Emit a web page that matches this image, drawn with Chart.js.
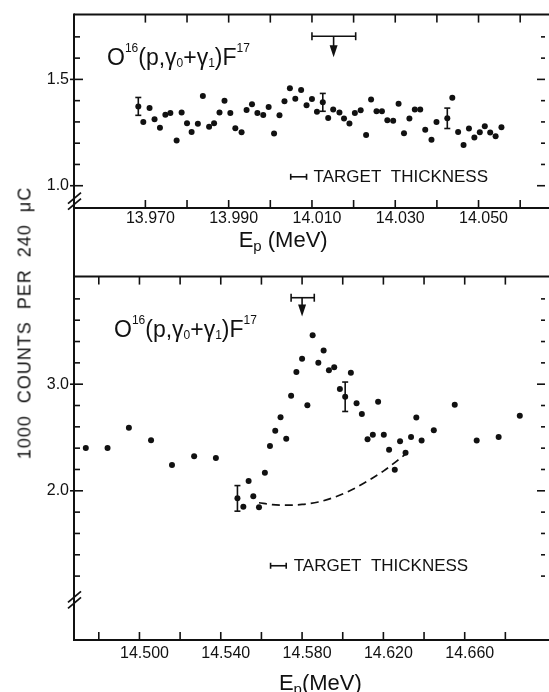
<!DOCTYPE html>
<html lang="en">
<head>
<meta charset="UTF-8">
<title>O16(p,γ0+γ1)F17 yield</title>
<script src="https://cdn.jsdelivr.net/npm/chart.js@4.4.1/dist/chart.umd.min.js"></script>
<style>
    html, body {
        margin: 0;
        padding: 0;
        width: 549px;
        height: 692px;
        overflow: hidden;
        background: #fff;
    }
    .panel { position: absolute; left: 0; }
    #topWrap { top: 0; }
    #botWrap { top: 262px; }
    #yTitle {
        position: absolute;
        left: 25px;
        top: 323px;
        transform: translate(-50%, -50%) rotate(-90deg);
        white-space: pre;
        font: 18px "Liberation Sans", Arial, sans-serif;
        letter-spacing: 1px;
        color: #111;
    }
</style>
</head>
<body>
<div id="topWrap" class="panel"><canvas id="topChart" width="549" height="262"></canvas></div>
<div id="botWrap" class="panel"><canvas id="botChart" width="549" height="430"></canvas></div>
<div id="yTitle">1000  COUNTS  PER  240  μC</div>

<script>
// ---- upper panel: 13.97 - 14.06 MeV ----
const topE = [13.9683, 13.9695, 13.9710, 13.9722, 13.9735, 13.9748, 13.9760, 13.9775, 13.9787, 13.9800,
              13.9811, 13.9826, 13.9838, 13.9853, 13.9865, 13.9878, 13.9890, 13.9904, 13.9916, 13.9931,
              13.9943, 13.9956, 13.9969, 13.9983, 13.9996, 14.0009, 14.0022, 14.0034, 14.0047, 14.0060,
              14.0074, 14.0087, 14.0100, 14.0112, 14.0126, 14.0139, 14.0151, 14.0166, 14.0177, 14.0190,
              14.0203, 14.0217, 14.0230, 14.0242, 14.0255, 14.0268, 14.0281, 14.0295, 14.0308, 14.0321,
              14.0334, 14.0347, 14.0360, 14.0372, 14.0387, 14.0399, 14.0425, 14.0437, 14.0451, 14.0464,
              14.0477, 14.0490, 14.0503, 14.0515, 14.0528, 14.0541, 14.0555];
const topCounts = [1.373, 1.300, 1.366, 1.313, 1.273, 1.334, 1.342, 1.213, 1.344, 1.294,
                   1.253, 1.291, 1.422, 1.277, 1.294, 1.344, 1.400, 1.342, 1.270, 1.252,
                   1.356, 1.383, 1.342, 1.333, 1.370, 1.245, 1.331, 1.397, 1.458, 1.409,
                   1.450, 1.378, 1.408, 1.348, 1.392, 1.319, 1.359, 1.344, 1.316, 1.292,
                   1.342, 1.355, 1.239, 1.405, 1.350, 1.350, 1.308, 1.306, 1.386, 1.247,
                   1.316, 1.358, 1.358, 1.263, 1.216, 1.300, 1.317, 1.414, 1.253, 1.192,
                   1.269, 1.227, 1.252, 1.280, 1.250, 1.233, 1.275];
const topErrE = [13.9683, 14.0126, 14.0425];
const topErrV = [1.373, 1.392, 1.317];
const topErrD = [0.042, 0.042, 0.048];
const topArrowE = [14.0100, 14.0152, 14.0205];   // bar start, arrow, bar end
const topArrowV = [1.703, 1.604];                // bar level, arrow tip
const topThickE = [14.0049, 14.0087, 14.0104];   // bar start, bar end, text start
const topThickV = [1.042];
const topXTicks = [13.970, 13.980, 13.990, 14.000, 14.010, 14.020, 14.030, 14.040, 14.050, 14.060];
const topXLabels = ['13.970', '13.990', '14.010', '14.030', '14.050'];
const topYTicks = [1.0, 1.1, 1.2, 1.3, 1.4, 1.5, 1.6, 1.7];
const topYLabels = ['1.0', '1.5'];

// ---- lower panel: 14.48 - 14.69 MeV ----
const botE = [14.4736, 14.4843, 14.4948, 14.5057, 14.5160, 14.5269, 14.5376, 14.5482, 14.5511, 14.5537,
              14.5560, 14.5588, 14.5617, 14.5642, 14.5668, 14.5694, 14.5722, 14.5746, 14.5772, 14.5800,
              14.5826, 14.5852, 14.5880, 14.5906, 14.5932, 14.5958, 14.5986, 14.6012, 14.6040, 14.6068,
              14.6094, 14.6122, 14.6148, 14.6174, 14.6202, 14.6228, 14.6256, 14.6282, 14.6309, 14.6336,
              14.6362, 14.6388, 14.6448, 14.6551, 14.6659, 14.6767, 14.6871];
const botCounts = [2.402, 2.402, 2.591, 2.474, 2.241, 2.325, 2.307, 1.929, 1.851, 2.093,
                   1.950, 1.845, 2.170, 2.421, 2.563, 2.690, 2.489, 2.892, 3.115, 3.238,
                   2.802, 3.458, 3.201, 3.316, 3.130, 3.158, 2.954, 2.882, 3.108, 2.820,
                   2.721, 2.483, 2.526, 2.836, 2.526, 2.384, 2.198, 2.464, 2.356, 2.505,
                   2.687, 2.471, 2.567, 2.808, 2.471, 2.505, 2.703];
const botErrE = [14.5482, 14.6012];
const botErrV = [1.929, 2.882];
const botErrD = [0.120, 0.138];
const bgCurveE = [14.5588, 14.5653, 14.5718, 14.5800, 14.5880, 14.5960, 14.6040, 14.6120, 14.6200, 14.6280, 14.6310];
const bgCurveV = [1.888, 1.870, 1.865, 1.872, 1.895, 1.940, 2.005, 2.090, 2.185, 2.300, 2.345];
const botArrowE = [14.5746, 14.5800, 14.5860];
const botArrowV = [3.811, 3.635];
const botThickE = [14.5645, 14.5722, 14.5759];
const botThickV = [1.297];
const botXTicks = [14.480, 14.500, 14.520, 14.540, 14.560, 14.580, 14.600, 14.620, 14.640, 14.660, 14.680];
const botXLabels = ['14.500', '14.540', '14.580', '14.620', '14.660'];
const botYTicks = [1.2, 1.4, 1.6, 1.8, 2.0, 2.2, 2.4, 2.6, 2.8, 3.0, 3.2, 3.4, 3.6, 3.8];
const botYLabels = ['2.0', '3.0'];

const ink = '#111';
const family = '"Liberation Sans", Arial, sans-serif';
Chart.defaults.font.family = family;
Chart.defaults.color = ink;

function line(ctx, x1, y1, x2, y2) {
    ctx.beginPath();
    ctx.moveTo(x1, y1);
    ctx.lineTo(x2, y2);
    ctx.stroke();
}

function labelFor(list, v) {
    const hit = list.find(l => Math.abs(parseFloat(l) - v) < 1e-6);
    return hit || '';
}

// frame (right side runs off the page), inward ticks, axis break, left spine between panels
const framePlugin = {
    id: 'frame',
    afterDraw(chart, args, o) {
        const { ctx, chartArea: a, scales: { x, y } } = chart;
        ctx.save();
        ctx.strokeStyle = ink;
        ctx.lineWidth = 2;
        line(ctx, a.left, a.top, chart.width, a.top);
        line(ctx, a.left, a.bottom, chart.width, a.bottom);
        line(ctx, a.left, a.top - 1, a.left, a.bottom + 1);
        if (o.spine === 'down') line(ctx, a.left, a.bottom, a.left, chart.height);
        if (o.spine === 'up') line(ctx, a.left, 0, a.left, a.top);

        ctx.lineWidth = 1.6;
        x.ticks.forEach(t => {
            const p = x.getPixelForValue(t.value);
            line(ctx, p, a.bottom, p, a.bottom - 8);
            line(ctx, p, a.top, p, a.top + 8);
        });
        y.ticks.forEach(t => {
            const q = y.getPixelForValue(t.value);
            const major = t.label !== '';
            line(ctx, a.left - (major ? 4 : 0), q, a.left + (major ? 9 : 6), q);
            line(ctx, a.right - (major ? 8 : 4), q, a.right, q);
        });

        // "//" break mark on the left axis
        const c = y.getPixelForValue(o.breakAt);
        ctx.lineWidth = 1.8;
        [-3, 3].forEach(d => line(ctx, a.left - 6, c + 5 + d, a.left + 7, c - 6 + d));
        ctx.restore();
    }
};

function drawFormula(ctx, x, y, size) {
    const parts = [['O', 0], ['16', 1], ['(p,', 0], ['γ', 0], ['0', -1], ['+', 0],
                   ['γ', 0], ['1', -1], [')F', 0], ['17', 1]];
    ctx.textBaseline = 'alphabetic';
    ctx.textAlign = 'left';
    parts.forEach(([t, k]) => {
        const s = k === 0 ? size : 12;
        ctx.font = s + 'px ' + family;
        const dy = k === 1 ? -13 : k === -1 ? 2 : 0;
        ctx.fillText(t, x, y + dy);
        x += ctx.measureText(t).width;
    });
}

// error bars, arrow, target thickness, reaction label and E_p title
const marksPlugin = {
    id: 'marks',
    afterDatasetsDraw(chart, args, o) {
        const { ctx, chartArea: a, scales: { x, y } } = chart;
        ctx.save();
        ctx.strokeStyle = ink;
        ctx.fillStyle = ink;
        ctx.lineWidth = 1.6;

        o.errE.forEach((e, i) => {
            const p = x.getPixelForValue(e);
            const hi = y.getPixelForValue(o.errV[i] + o.errD[i]);
            const lo = y.getPixelForValue(o.errV[i] - o.errD[i]);
            line(ctx, p, hi, p, lo);
            line(ctx, p - 3, hi, p + 3, hi);
            line(ctx, p - 3, lo, p + 3, lo);
        });

        // resonance arrow with energy spread bar
        const b0 = x.getPixelForValue(o.arrowE[0]);
        const ax = x.getPixelForValue(o.arrowE[1]);
        const b1 = x.getPixelForValue(o.arrowE[2]);
        const by = y.getPixelForValue(o.arrowV[0]);
        const tip = y.getPixelForValue(o.arrowV[1]);
        line(ctx, b0, by, b1, by);
        line(ctx, b0, by - 4, b0, by + 4);
        line(ctx, b1, by - 4, b1, by + 4);
        line(ctx, ax, by, ax, tip - 10);
        ctx.beginPath();
        ctx.moveTo(ax - 4, tip - 12);
        ctx.lineTo(ax + 4, tip - 12);
        ctx.lineTo(ax, tip);
        ctx.closePath();
        ctx.fill();

        // target thickness marker
        const t0 = x.getPixelForValue(o.thickE[0]);
        const t1 = x.getPixelForValue(o.thickE[1]);
        const ty = y.getPixelForValue(o.thickV[0]);
        line(ctx, t0, ty, t1, ty);
        line(ctx, t0, ty - 3, t0, ty + 3);
        line(ctx, t1, ty - 3, t1, ty + 3);
        ctx.font = '17px ' + family;
        ctx.textAlign = 'left';
        ctx.textBaseline = 'middle';
        ctx.fillText('TARGET  THICKNESS', x.getPixelForValue(o.thickE[2]), ty + 1);

        drawFormula(ctx, a.left + o.formula[0], a.top + o.formula[1], 23);

        // E_p (MeV)
        let tx = x.getPixelForValue(o.titleE);
        const base = chart.height - o.titleBase;
        ctx.textBaseline = 'alphabetic';
        ctx.font = '22px ' + family;
        ctx.fillText('E', tx, base);
        tx += ctx.measureText('E').width;
        ctx.font = '15px ' + family;
        ctx.fillText('p', tx, base + 4);
        tx += ctx.measureText('p').width;
        ctx.font = '22px ' + family;
        ctx.fillText(o.titleGap + '(MeV)', tx, base);
        ctx.restore();
    }
};

function makeChart(id, d) {
    const datasets = [{
        data: d.E.map((e, i) => ({ x: e, y: d.V[i] })),
        pointRadius: 3,
        pointBackgroundColor: ink,
        pointBorderWidth: 0,
        showLine: false
    }];
    if (d.curveE) {
        datasets.push({
            data: d.curveE.map((e, i) => ({ x: e, y: d.curveV[i] })),
            showLine: true,
            pointRadius: 0,
            borderColor: ink,
            borderWidth: 1.7,
            borderDash: [8, 5],
            cubicInterpolationMode: 'monotone',
            fill: false
        });
    }
    return new Chart(document.getElementById(id), {
        type: 'scatter',
        data: { datasets },
        plugins: [framePlugin, marksPlugin],
        options: {
            responsive: false,
            animation: false,
            layout: { padding: { top: d.padTop, right: 0, left: 0, bottom: 0 } },
            plugins: {
                legend: { display: false },
                tooltip: { enabled: false },
                frame: { spine: d.spine, breakAt: d.breakAt },
                marks: {
                    errE: d.errE, errV: d.errV, errD: d.errD,
                    arrowE: d.arrowE, arrowV: d.arrowV,
                    thickE: d.thickE, thickV: d.thickV,
                    formula: d.formula, titleE: d.titleE, titleBase: d.titleBase, titleGap: d.titleGap
                }
            },
            scales: {
                x: {
                    type: 'linear',
                    min: d.xMin,
                    max: d.xMax,
                    grid: { display: false, drawTicks: false },
                    border: { display: false },
                    afterBuildTicks: s => { s.ticks = d.xTicks.map(v => ({ value: v })); },
                    afterFit: s => { s.height = d.xAxisH; },
                    ticks: {
                        callback: v => labelFor(d.xLabels, v),
                        autoSkip: false,
                        maxRotation: 0,
                        padding: d.xPad,
                        labelOffset: 5,
                        font: { size: 16 },
                        color: ink
                    }
                },
                y: {
                    type: 'linear',
                    min: d.yMin,
                    max: d.yMax,
                    grid: { display: false, drawTicks: false },
                    border: { display: false },
                    afterBuildTicks: s => { s.ticks = d.yTicks.map(v => ({ value: v })); },
                    afterFit: s => { s.width = 74; },
                    ticks: {
                        callback: v => labelFor(d.yLabels, v),
                        autoSkip: false,
                        padding: 5,
                        font: { size: 16 },
                        color: ink
                    }
                }
            }
        }
    });
}

makeChart('topChart', {
    E: topE, V: topCounts, errE: topErrE, errV: topErrV, errD: topErrD,
    arrowE: topArrowE, arrowV: topArrowV, thickE: topThickE, thickV: topThickV,
    xTicks: topXTicks, xLabels: topXLabels, yTicks: topYTicks, yLabels: topYLabels,
    xMin: 13.95286, xMax: 14.06596, yMin: 0.8952, yMax: 1.8047,
    padTop: 14, xAxisH: 54, xPad: 1, spine: 'down', breakAt: 0.925,
    formula: [33, 50], titleE: 13.9924, titleBase: 15, titleGap: ' '
});

makeChart('botChart', {
    E: botE, V: botCounts, errE: botErrE, errV: botErrV, errD: botErrD,
    curveE: bgCurveE, curveV: bgCurveV,
    arrowE: botArrowE, arrowV: botArrowV, thickE: botThickE, thickV: botThickV,
    xTicks: botXTicks, xLabels: botXLabels, yTicks: botYTicks, yLabels: botYLabels,
    xMin: 14.4678, xMax: 14.6995, yMin: 0.6007, yMax: 4.009,
    padTop: 11, xAxisH: 52, xPad: 4, spine: 'up', breakAt: 0.972,
    formula: [40, 60], titleE: 14.5686, titleBase: 2, titleGap: ''
});
</script>
</body>
</html>
